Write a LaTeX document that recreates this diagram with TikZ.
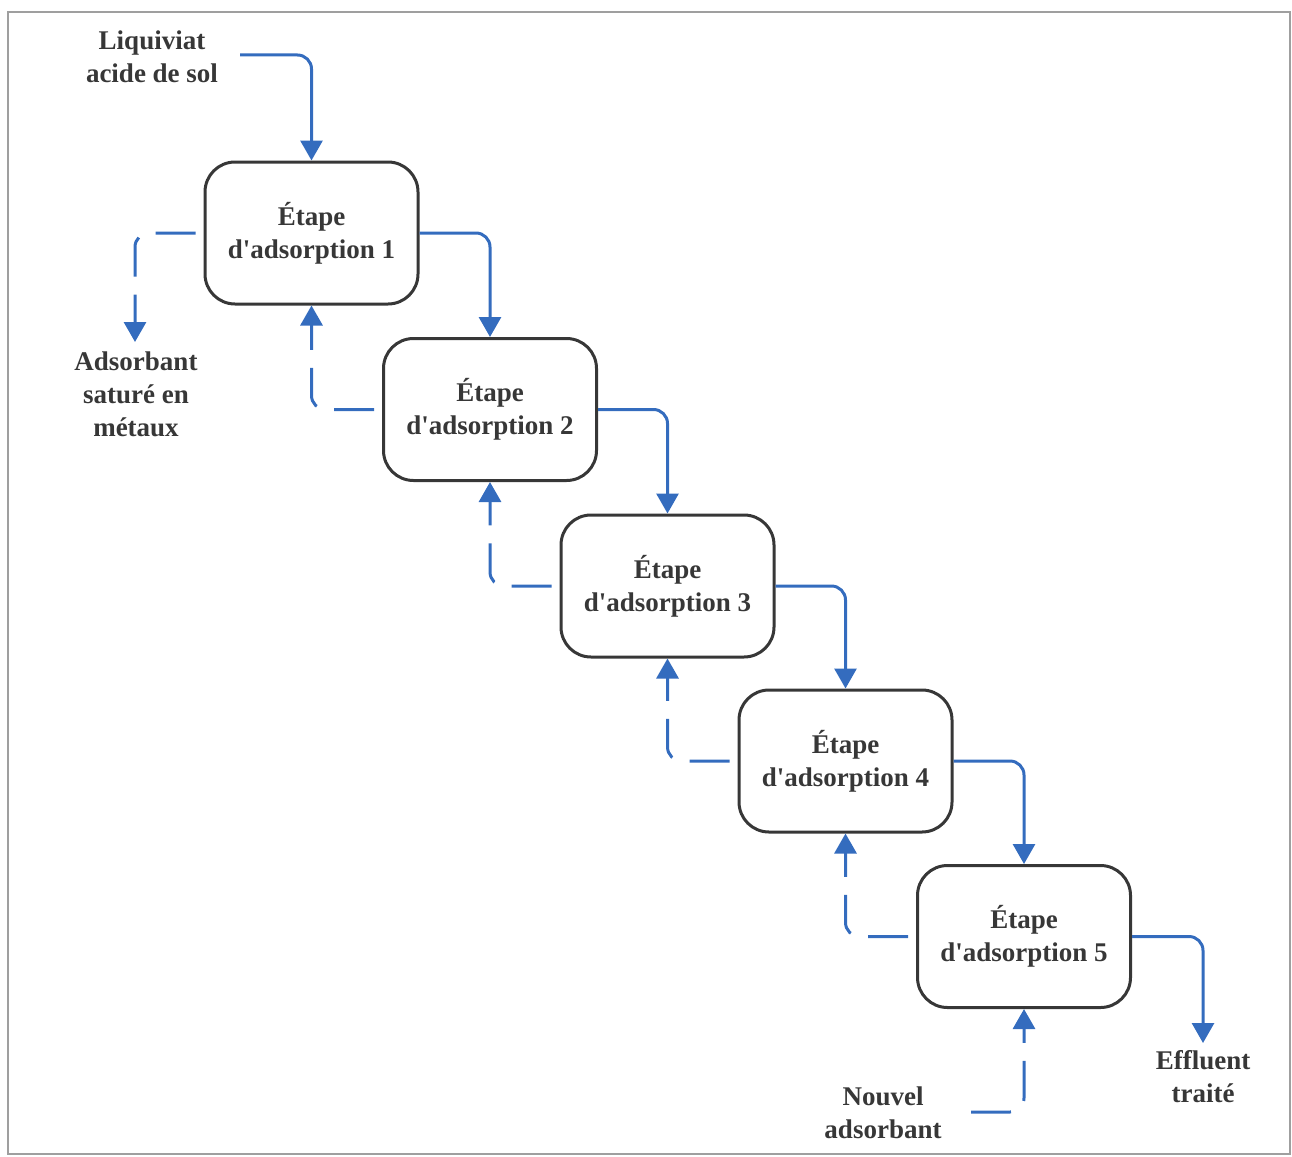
\documentclass[tikz,border=0pt]{standalone}
\usepackage{fontspec}
\setmainfont{Liberation Serif}
\usetikzlibrary{arrows.meta}
\definecolor{flow}{RGB}{52,108,190}
\definecolor{ink}{RGB}{55,55,55}
\newcommand\apos{\textquotesingle}

\begin{document}
\begin{tikzpicture}[x=1pt,y=-1pt,
  txt/.style={font=\fontsize{27}{33}\selectfont\bfseries, text=ink, align=center},
  stepbox/.style={txt, draw=ink, line width=3pt, rounded corners=30pt,
    minimum width=213pt, minimum height=142pt, inner sep=0pt},
  feed/.style={draw=flow, line width=3pt, rounded corners=14pt,
    -{Triangle[width=22pt,length=20pt]}},
  recycle/.style={feed, dash pattern=on 40pt off 18pt, dash phase=50pt}]

\useasboundingbox (0,0) rectangle (1292,1156);
\draw[gray!75, line width=1.5pt] (8,12) rectangle (1290,1154);

% adsorption stages
\node[stepbox] (s1) at (311.5,233)  {Étape\\d\apos adsorption 1};
\node[stepbox] (s2) at (490,409.5)  {Étape\\d\apos adsorption 2};
\node[stepbox] (s3) at (667.5,586)  {Étape\\d\apos adsorption 3};
\node[stepbox] (s4) at (845.5,761)  {Étape\\d\apos adsorption 4};
\node[stepbox] (s5) at (1024,936.5) {Étape\\d\apos adsorption 5};

% labels
\node[txt] (liq) at (152,57)   {Liquiviat\\acide de sol};
\node[txt] (sat) at (136,394)  {Adsorbant\\saturé en\\métaux};
\node[txt] (nou) at (883,1113) {Nouvel\\adsorbant};
\node[txt] (eff) at (1203,1077){Effluent\\traité};

% free ends
\coordinate (inlet)  at (240,55);
\coordinate (satend) at (135,342);
\coordinate (newin)  at (963,1112);
\coordinate (effend) at (1203,1043);

% liquid flow
\draw[feed] (inlet) -| (s1.north);
\draw[feed] (s1.east) -| (s2.north);
\draw[feed] (s2.east) -| (s3.north);
\draw[feed] (s3.east) -| (s4.north);
\draw[feed] (s4.east) -| (s5.north);
\draw[feed] (s5.east) -| (effend);

% adsorbent counter-flow
\draw[recycle] (newin) -| (s5.south);
\draw[recycle, dash phase=50pt] (s5.west) -| (s4.south);
\draw[recycle] (s4.west) -| (s3.south);
\draw[recycle] (s3.west) -| (s2.south);
\draw[recycle] (s2.west) -| (s1.south);
\draw[recycle] (s1.west) -| (satend);
\end{tikzpicture}
\end{document}
